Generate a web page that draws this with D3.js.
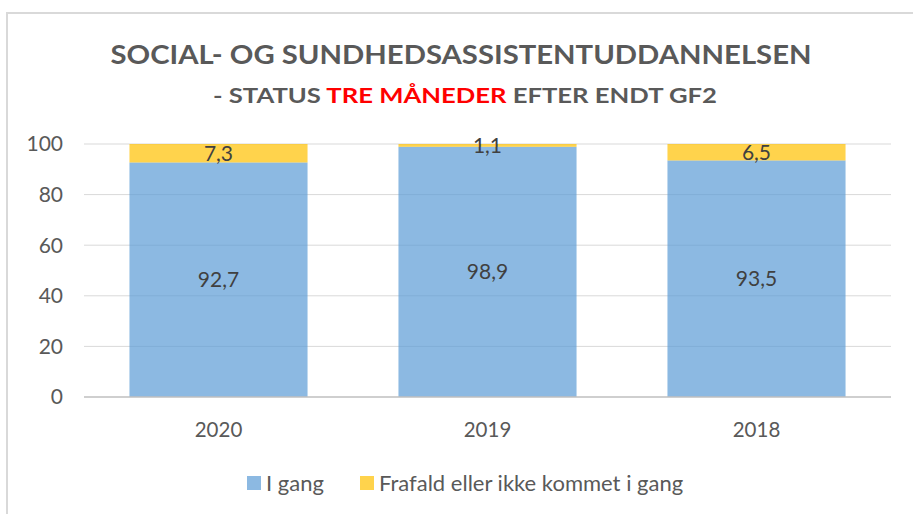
<!DOCTYPE html>
<html>
<head>
<meta charset="utf-8">
<script src="https://cdn.jsdelivr.net/npm/d3@7"></script>
<style>
  body { margin: 0; background: #fff; }
  svg text { font-family: Lato, "Open Sans", sans-serif; }
</style>
</head>
<body>
<div id="chart"></div>
<script>
var years = ["2020", "2019", "2018"];
var iGang = [92.7, 98.9, 93.5];
var frafald = [7.3, 1.1, 6.5];
var seriesNames = ["I gang", "Frafald eller ikke kommet i gang"];
var yTicks = [0, 20, 40, 60, 80, 100];

var width = 913, height = 514;
var x0 = 84, x1 = 891, yTop = 144, yBottom = 397;

var svg = d3.select('#chart').append('svg')
    .attr('width', width)
    .attr('height', height);

// chart frame
svg.append('rect')
    .attr('x', 7).attr('y', 13)
    .attr('width', 920).attr('height', 520)
    .attr('fill', 'none')
    .attr('stroke', '#d9d9d9')
    .attr('stroke-width', 2);

var x = d3.scaleBand()
    .domain(years)
    .range([x0, x1])
    .paddingInner(0.338)
    .paddingOuter(0.169);

var y = d3.scaleLinear()
    .domain([0, 100])
    .range([yBottom, yTop]);

// gridlines
svg.append('g').selectAll('line')
    .data(yTicks.filter(function (d) { return d > 0; }))
    .enter().append('line')
    .attr('x1', x0).attr('x2', x1)
    .attr('y1', function (d) { return y(d); })
    .attr('y2', function (d) { return y(d); })
    .attr('stroke', '#d9d9d9')
    .attr('stroke-width', 1);

// y tick labels
svg.append('g').selectAll('text')
    .data(yTicks)
    .enter().append('text')
    .attr('x', 63)
    .attr('y', function (d) { return y(d); })
    .attr('dy', '0.35em')
    .attr('text-anchor', 'end')
    .style('font-size', '21px')
    .style('fill', '#595959')
    .text(function (d) { return d; });

var rows = years.map(function (yr, i) {
    return { year: yr, a: iGang[i], b: frafald[i] };
});

var fmt = function (v) { return String(v).replace('.', ','); };

// bars
var bars = svg.append('g');
bars.selectAll('rect.a')
    .data(rows)
    .enter().append('rect')
    .attr('class', 'a')
    .attr('x', function (d) { return x(d.year); })
    .attr('width', x.bandwidth())
    .attr('y', function (d) { return y(d.a); })
    .attr('height', function (d) { return y(0) - y(d.a); })
    .attr('fill', '#5B9BD5')
    .attr('fill-opacity', 0.7);

bars.selectAll('rect.b')
    .data(rows)
    .enter().append('rect')
    .attr('class', 'b')
    .attr('x', function (d) { return x(d.year); })
    .attr('width', x.bandwidth())
    .attr('y', function (d) { return y(d.a + d.b); })
    .attr('height', function (d) { return y(d.a) - y(d.a + d.b); })
    .attr('fill', '#FFC000')
    .attr('fill-opacity', 0.7);

// x axis line
svg.append('line')
    .attr('x1', x0).attr('x2', x1)
    .attr('y1', y(0)).attr('y2', y(0))
    .attr('stroke', '#bfbfbf')
    .attr('stroke-width', 1.5);

// data labels
svg.append('g').selectAll('text')
    .data(rows)
    .enter().append('text')
    .attr('x', function (d) { return x(d.year) + x.bandwidth() / 2; })
    .attr('y', function (d) { return y(d.a / 2); })
    .attr('dy', '0.35em')
    .attr('text-anchor', 'middle')
    .style('font-size', '21px')
    .style('fill', '#404040')
    .text(function (d) { return fmt(d.a); });

svg.append('g').selectAll('text')
    .data(rows)
    .enter().append('text')
    .attr('x', function (d) { return x(d.year) + x.bandwidth() / 2; })
    .attr('y', function (d) { return y(d.a + d.b / 2); })
    .attr('dy', '0.35em')
    .attr('text-anchor', 'middle')
    .style('font-size', '21px')
    .style('fill', '#404040')
    .text(function (d) { return fmt(d.b); });

// category labels
svg.append('g').selectAll('text')
    .data(years)
    .enter().append('text')
    .attr('x', function (d) { return x(d) + x.bandwidth() / 2; })
    .attr('y', 430)
    .attr('dy', '0.35em')
    .attr('text-anchor', 'middle')
    .style('font-size', '20.5px')
    .style('fill', '#595959')
    .text(function (d) { return d; });

// titles
var title = svg.append('text')
    .attr('x', 461).attr('y', 64)
    .attr('text-anchor', 'middle')
    .style('font-size', '27px')
    .style('font-weight', 'bold')
    .style('fill', '#595959')
    .text('SOCIAL- OG SUNDHEDSASSISTENTUDDANNELSEN');
title.attr('textLength', 701).attr('lengthAdjust', 'spacingAndGlyphs');

var sub = svg.append('text')
    .attr('x', 465).attr('y', 103)
    .attr('text-anchor', 'middle')
    .style('font-size', '21px')
    .style('font-weight', 'bold')
    .style('fill', '#595959');
sub.append('tspan').text('- STATUS ');
sub.append('tspan').style('fill', '#ff0000').text('TRE MÅNEDER');
sub.append('tspan').text(' EFTER ENDT GF2');
sub.attr('textLength', 504).attr('lengthAdjust', 'spacingAndGlyphs');

// legend
var legendColors = ['#5B9BD5', '#FFC000'];
var legendX = [247, 360];
var legend = svg.append('g').selectAll('g')
    .data(seriesNames)
    .enter().append('g')
    .attr('transform', function (d, i) { return 'translate(' + legendX[i] + ',476)'; });
legend.append('rect')
    .attr('width', 14).attr('height', 14)
    .attr('fill', function (d, i) { return legendColors[i]; })
    .attr('fill-opacity', 0.7);
legend.append('text')
    .attr('x', 19).attr('y', 7)
    .attr('dy', '0.35em')
    .style('font-size', '22px')
    .style('fill', '#595959')
    .text(function (d) { return d; });
</script>
</body>
</html>
